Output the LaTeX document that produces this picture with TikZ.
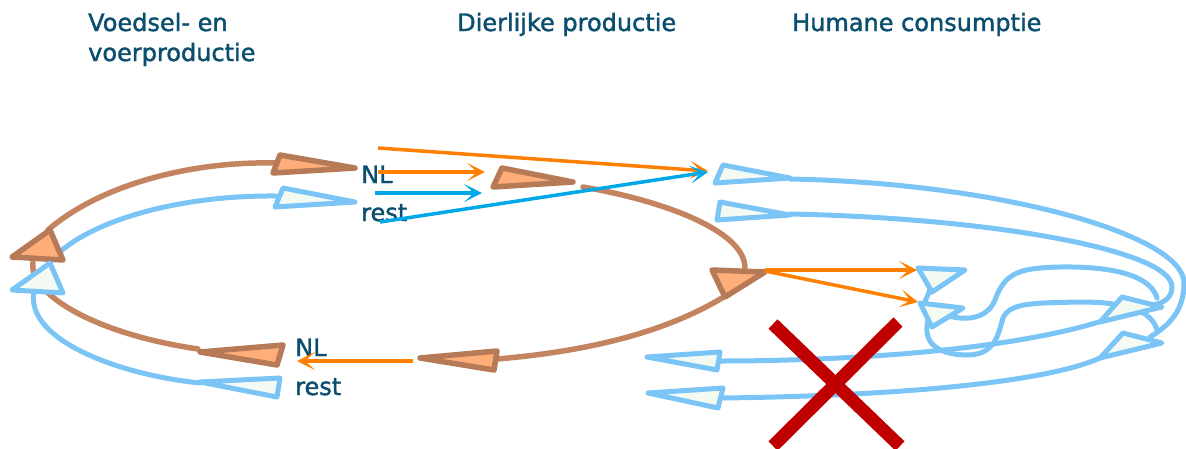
\documentclass[tikz,border=0pt]{standalone}
\usepackage{fontspec}
\setmainfont{DejaVu Sans}
\newfontfamily\labelfont{DejaVu Sans}[FakeBold=1.6]
\usetikzlibrary{arrows.meta}
\definecolor{txt}{RGB}{11,78,110}
\definecolor{brownline}{RGB}{196,132,96}
\definecolor{browntri}{RGB}{182,122,86}
\definecolor{brownfill}{RGB}{255,174,122}
\definecolor{blueline}{RGB}{122,196,246}
\definecolor{bluefill}{RGB}{242,250,242}
\definecolor{arrorange}{RGB}{255,128,0}
\definecolor{arrblue}{RGB}{0,168,232}
\definecolor{crossred}{RGB}{192,0,0}
\tikzset{
  heading/.style={anchor=base west, inner sep=0pt, text=txt, font=\labelfont\fontsize{24}{29}\selectfont},
  lbl/.style={anchor=base west, inner sep=0pt, text=txt, font=\labelfont\fontsize{24}{29}\selectfont},
  brownarc/.style={draw=brownline, line width=5.5pt, line cap=round},
  bluearc/.style={draw=blueline, line width=5pt, line cap=round},
  browntriangle/.style={draw=browntri, fill=brownfill, line width=5.5pt, line join=round},
  bluetriangle/.style={draw=blueline, fill=bluefill, line width=5pt, line join=round},
  flowarrow/.style={line width=3.5pt, -{Stealth[length=18pt,width=18pt,inset=10pt]}},
  crossline/.style={draw=crossred, line width=13pt},
}
\begin{document}
\begin{tikzpicture}[x=1pt,y=-1pt]
\path[use as bounding box] (0,0) rectangle (1186,448);

% ---- brown loop (left) ----
\draw[brownarc] (276,163) .. controls (190,161) and (100,185) .. (48,230);
\draw[brownarc] (33,262) .. controls (28,292) and (90,333) .. (198,349);
% ---- brown loop (right) ----
\draw[brownarc] (583,187) .. controls (660,200) and (745,230) .. (745,268);
\draw[brownarc] (722,298) .. controls (660,335) and (580,352) .. (497,359);

% ---- blue loop (left) ----
\draw[bluearc] (276,196) .. controls (170,195) and (80,225) .. (50,262);
\draw[bluearc] (34,292) .. controls (25,340) and (120,375) .. (200,383);

% ---- blue loops (right, humane consumptie) ----
\draw[bluearc] (790,179) .. controls (1000,183) and (1184,235) .. (1184,283)
               .. controls (1184,310) and (1170,325) .. (1150,337);
\draw[bluearc] (790,214) .. controls (990,218) and (1172,250) .. (1172,287)
               .. controls (1172,300) and (1160,305) .. (1148,305);
\draw[bluearc] (925,305) .. controls (950,322) and (985,325) .. (995,300)
               .. controls (1005,272) and (1020,268) .. (1060,267)
               .. controls (1125,266) and (1152,280) .. (1157,298);
\draw[bluearc] (928,320) .. controls (922,345) and (940,354) .. (965,355)
               .. controls (995,356) and (998,335) .. (1003,318)
               .. controls (1010,303) and (1030,303) .. (1080,302)
               .. controls (1130,302) and (1152,312) .. (1157,330);
\draw[bluearc] (930,290) -- (924,304);
\draw[bluearc] (719,361) .. controls (850,361) and (1010,350) .. (1102,321);
\draw[bluearc] (720,398) .. controls (900,396) and (1050,382) .. (1102,357);

% ---- triangles ----
\draw[browntriangle] (273,173) -- (280,155) -- (355,168) -- cycle;
\draw[browntriangle] (12,257) -- (50,230) -- (63,260) -- cycle;
\draw[browntriangle] (200,352) -- (283,345) -- (277,365) -- cycle;
\draw[browntriangle] (493,187) -- (502,168) -- (573,182) -- cycle;
\draw[browntriangle] (712,270) -- (725,297) -- (765,272) -- cycle;
\draw[browntriangle] (420,358) -- (497,351) -- (494,370) -- cycle;

\draw[bluetriangle] (275,207) -- (283,188) -- (355,202) -- cycle;
\draw[bluetriangle] (12,290) -- (50,263) -- (63,293) -- cycle;
\draw[bluetriangle] (200,382) -- (280,378) -- (277,397) -- cycle;
\draw[bluetriangle] (715,183) -- (723,165) -- (790,178) -- cycle;
\draw[bluetriangle] (717,220) -- (720,202) -- (790,215) -- cycle;
\draw[bluetriangle] (647,357) -- (720,352) -- (717,370) -- cycle;
\draw[bluetriangle] (648,393) -- (723,388) -- (718,408) -- cycle;
\draw[bluetriangle] (918,268) -- (932,292) -- (965,270) -- cycle;
\draw[bluetriangle] (920,303) -- (932,327) -- (963,308) -- cycle;
\draw[bluetriangle] (1100,322) -- (1122,297) -- (1162,307) -- cycle;
\draw[bluetriangle] (1100,358) -- (1123,333) -- (1162,343) -- cycle;

% ---- headings ----
\node[heading] (food1) at (88,31) {Voedsel- en};
\node[heading] (food2) at (88,61) {voerproductie};
\node[heading] (animal) at (457,31) {Dierlijke productie};
\node[heading] (human) at (792,31) {Humane consumptie};

% ---- labels ----
\node[lbl] (nltop) at (361,183) {NL};
\node[lbl] (resttop) at (361,221) {rest};
\node[lbl] (nlbot) at (295,356) {NL};
\node[lbl] (restbot) at (295,395) {rest};

% ---- flow arrows ----
\coordinate (o1s) at (378,148);
\coordinate (o1e) at (708,171);
\coordinate (o2s) at (378,172);
\coordinate (o2e) at (485,172);
\coordinate (b1s) at (375,193);
\coordinate (b1e) at (482,193);
\coordinate (b2s) at (380,222);
\coordinate (b2e) at (708,172);
\coordinate (o3s) at (765,270);
\coordinate (o3e) at (917,270);
\coordinate (o4s) at (765,271);
\coordinate (o4e) at (918,302);
\coordinate (o5s) at (413,361);
\coordinate (o5e) at (297,361);
\draw[flowarrow, draw=arrorange, fill=arrorange] (o1s) -- (o1e);
\draw[flowarrow, draw=arrorange, fill=arrorange] (o2s) -- (o2e);
\draw[flowarrow, draw=arrblue, fill=arrblue] (b1s) -- (b1e);
\draw[flowarrow, draw=arrblue, fill=arrblue] (b2s) -- (b2e);
\draw[flowarrow, draw=arrorange, fill=arrorange] (o3s) -- (o3e);
\draw[flowarrow, draw=arrorange, fill=arrorange] (o4s) -- (o4e);
\draw[flowarrow, draw=arrorange, fill=arrorange] (o5s) -- (o5e);

% ---- red cross ----
\draw[crossline] (773,324) -- (900,446);
\draw[crossline] (898,322) -- (773,446);
\end{tikzpicture}
\end{document}
